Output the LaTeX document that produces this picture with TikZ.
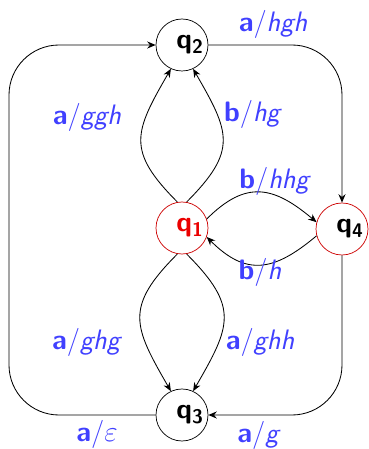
\documentclass[tikz,border=0pt]{standalone}
\usepackage{xcolor}
\usetikzlibrary{arrows.meta}
\renewcommand{\familydefault}{\sfdefault}
\definecolor{qred}{RGB}{205,0,0}
\definecolor{qtext}{RGB}{235,0,0}
\definecolor{lblue}{RGB}{64,64,255}
\tikzset{
    qstate/.style={circle, draw, line width=0.5pt,
        minimum size=1.3cm, inner sep=0pt,
        font=\fontsize{20}{24}\selectfont\bfseries,
        execute at begin node={\hspace*{0.4cm}}},
    qfinal/.style={qstate, draw=qred},
    trans/.style={line width=0.6pt, -{Stealth[length=6pt,width=5pt]}},
    lbl/.style={text=lblue, font=\fontsize{20}{24}\selectfont},
}
\newcommand{\trlabel}[2]{\textbf{#1}/\textit{#2}}

\begin{document}
\begin{tikzpicture}
\useasboundingbox (0,0) rectangle (9.2,11.225);
% states
\node[qstate] (q2) at (4.55,10.1) {q\textsubscript{2}};
\node[qfinal, text=qtext] (q1) at (4.55,5.525) {q\textsubscript{1}};
\node[qfinal] (q4) at (8.55,5.5) {q\textsubscript{4}};
\node[qstate] (q3) at (4.55,0.85) {q\textsubscript{3}};
\coordinate (westside) at (0.225,5.5);

% transitions
\draw[trans] (q1.100) to[out=135, in=-120, looseness=1.4] (q2.-115);
\draw[trans] (q1.80) to[out=45, in=-60, looseness=1.4] (q2.-65);
\draw[trans] (q1.-100) to[out=-135, in=120, looseness=1.4] (q3.115);
\draw[trans] (q1.-80) to[out=-45, in=60, looseness=1.4] (q3.65);
\draw[trans] (q1.20) to[out=45, in=140, looseness=1.3] (q4.165);
\draw[trans] (q4.195) to[out=-140, in=-45, looseness=1.3] (q1.-20);
\draw[trans, rounded corners=1.25cm] (q3.west) -| (westside) |- (q2.west);
\draw[trans, rounded corners=1.25cm] (q2.east) -| (q4.north);
\draw[trans, rounded corners=1.25cm] (q4.south) |- (q3.east);

% labels
\node[lbl] (l21) at (6.825,10.625) {\trlabel{a}{hgh}};
\node[lbl] (l12b) at (6.325,8.375) {\trlabel{b}{hg}};
\node[lbl] (l12a) at (2.175,8.3) {\trlabel{a}{ggh}};
\node[lbl] (l14) at (6.875,6.7) {\trlabel{b}{hhg}};
\node[lbl] (l41) at (6.5,4.425) {\trlabel{b}{h}};
\node[lbl] (l13a) at (2.175,2.675) {\trlabel{a}{ghg}};
\node[lbl] (l13b) at (6.5,2.675) {\trlabel{a}{ghh}};
\node[lbl] (l32) at (2.425,0.375) {\trlabel{a}{$\varepsilon$}};
\node[lbl] (l43) at (6.475,0.35) {\trlabel{a}{g}};
\end{tikzpicture}
\end{document}
